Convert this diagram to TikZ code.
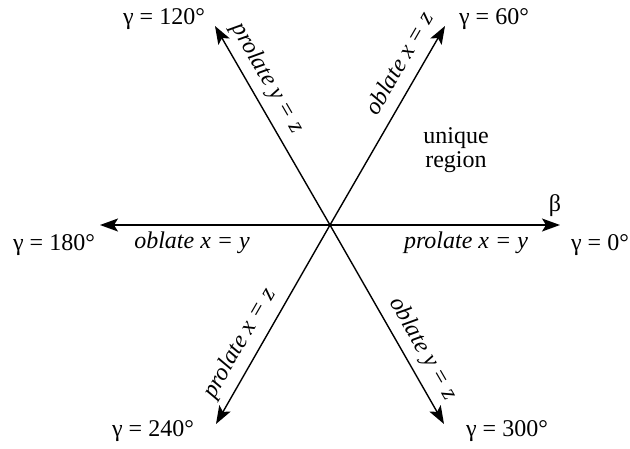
\documentclass[tikz,border=0pt]{standalone}
\usepackage{fontspec}
\setmainfont{Liberation Serif}
\usetikzlibrary{arrows.meta,calc}
\begin{document}
\begin{tikzpicture}[x=1pt,y=-1pt,
  ax/.style={-{Stealth[length=18pt,width=13pt,inset=4pt]}, line width=1.4pt},
  lab/.style={font=\fontsize{24}{27}\selectfont, inner sep=0pt},
  ilab/.style={font=\fontsize{24}{27}\selectfont\itshape, inner sep=0pt},
  slab/.style={ilab, anchor=south, text depth=0pt, inner ysep=13pt}]
\useasboundingbox[fill=white] (0,0) rectangle (630,448);
\coordinate (o) at (330,225);
\coordinate (e0) at (560,225);
\coordinate (e60) at (445,26);
\coordinate (e120) at (215,26);
\coordinate (e180) at (100,225);
\coordinate (e240) at (216,424);
\coordinate (e300) at (444,424);
\foreach \e in {e0,e60,e120,e180,e240,e300} \draw[ax] (o) -- (\e);
\node[lab] (g0) at (600,245) {γ = 0°};
\node[lab] (g60) at (494,19) {γ = 60°};
\node[lab] (g120) at (164,19) {γ = 120°};
\node[lab] (g180) at (54,245) {γ = 180°};
\node[lab] (g240) at (153,431) {γ = 240°};
\node[lab] (g300) at (507,431) {γ = 300°};
\node[lab] (beta) at (555,206) {β};
\node[ilab] (l0) at (466,243) {prolate x = y};
\node[ilab] (l180) at (192,243) {oblate x = y};
\node[slab, rotate=60] (l60) at ($(o)!0.76!(e60)$) {oblate x = z};
\node[slab, rotate=-60] (l120) at ($(o)!0.69!(e120)$) {prolate y = z};
\node[slab, rotate=60] (l240) at ($(o)!0.645!(e240)$) {prolate x = z};
\node[slab, rotate=-60] (l300) at ($(o)!0.67!(e300)$) {oblate y = z};
\node[lab, align=center] (uniq) at (456,150) {unique\\[-3pt]region};
\end{tikzpicture}
\end{document}
